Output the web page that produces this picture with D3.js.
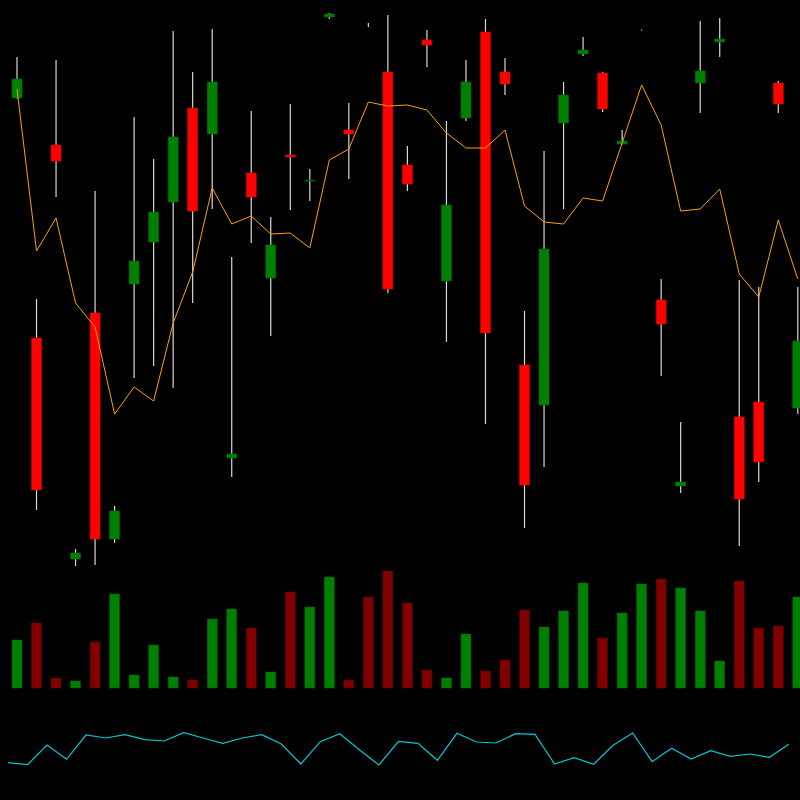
<!DOCTYPE html>
<html>
<head>
<meta charset="utf-8">
<script src="https://cdn.jsdelivr.net/npm/d3@7"></script>
<style>
html,body{margin:0;padding:0;background:#000;}
svg{display:block;}
</style>
</head>
<body>
<script>
// Candle data (price units)
const openV  = [48.2,24.2,43.5,2.1,26.7,4.1,29.6,33.8,37.8,47.2,44.6,12.2,40.7,30.2,42.5,39.9,56.3,45.0,55.56,50.8,41.5,54.0,29.9,46.2,54.8,50.8,21.5,17.5,45.7,52.6,50.7,43.6,54.98,28.0,9.4,49.7,53.8,16.3,17.8,49.7,17.2];
const highV  = [52.3,28.1,52.0,3.1,38.9,7.4,46.3,42.1,54.9,50.8,55.1,32.3,46.9,36.3,47.6,41.1,56.7,47.7,55.7,56.5,43.4,55.0,45.9,52.0,56.1,52.2,26.9,42.9,49.8,54.3,50.8,45.0,55.05,30.1,15.8,55.9,56.2,30.0,29.3,49.9,29.3];
const lowV   = [48.1,7.0,38.3,1.4,1.5,3.7,20.2,21.4,19.2,27.7,37.1,10.3,33.7,24.4,37.0,37.9,56.1,40.1,55.3,28.7,38.9,51.3,23.8,45.9,15.6,48.5,5.2,11.3,37.1,52.4,46.8,43.55,54.95,20.4,8.7,46.7,52.3,3.4,9.8,46.7,16.6];
const closeV = [50.1,9.0,41.9,2.7,4.1,6.9,31.9,36.8,44.3,36.9,49.8,12.6,38.3,33.5,42.3,40.0,56.6,44.6,55.5,29.1,39.6,53.5,37.5,49.8,24.7,49.6,9.5,33.1,48.5,53.0,47.1,43.9,55.02,25.6,9.8,50.9,54.1,8.1,11.8,47.6,23.9];
// Moving average (orange)
const maV = [49.1,32.9,36.2,27.7,25.3,16.6,19.3,17.9,25.7,30.8,39.2,35.6,36.4,34.6,34.7,33.2,42.0,43.1,47.8,47.4,47.5,47.0,44.7,43.2,43.2,45.0,37.4,35.8,35.6,38.2,37.9,43.7,49.5,45.5,36.9,37.1,39.1,30.6,28.3,36.0,30.1];
// Volume
const volV = [48,65,10,7,46,94,13,43,11,8,69,79,60,16,96,81,111,8,91,117,85,18,10,54,17,28,78,61,77,105,50,75,104,109,100,77,27,107,60,62,91];
// Oscillator (cyan)
const oscV = [17.3,15.3,35,20.7,45,42,45.3,40.3,39,47.3,42,36.7,42,45.3,36,16,38.3,46.3,30.3,15,38.5,36.7,19.7,46.7,38,37,46.3,45.7,16,22.3,15.7,34.7,47,18.3,31.7,21,29.3,23.7,26,22.7,35.7];

const W = 800, H = 800;
const n = openV.length;
const idx = d3.range(n);

const svg = d3.select("body").append("svg").attr("width", W).attr("height", H)
  .style("background", "#000");
svg.append("rect").attr("width", W).attr("height", H).attr("fill", "#000");

const x = d3.scaleLinear().domain([0, n - 1]).range([17, 797.8]);
const y = d3.scaleLinear().domain([0, 58]).range([580, 0]);
const yVol = d3.scaleLinear().domain([0, 120]).range([688, 568]);
const yOsc = d3.scaleLinear().domain([0, 60]).range([780, 720]);
const bw = 10;

const up = i => closeV[i] >= openV[i];
const bodyH = i => Math.abs(y(openV[i]) - y(closeV[i]));
const bodyIdx = idx.filter(i => bodyH(i) >= 1);

// Volume bars
svg.append("g").selectAll("rect").data(idx).join("rect")
  .attr("x", i => x(i) - bw / 2)
  .attr("y", i => yVol(volV[i]))
  .attr("width", bw)
  .attr("height", i => yVol(0) - yVol(volV[i]))
  .attr("fill", i => up(i) ? "#008000" : "#800000")
  .attr("stroke", i => up(i) ? "#005a00" : "#5a0000")
  .attr("stroke-width", 0.6);

// Wicks
svg.append("g").selectAll("line").data(idx).join("line")
  .attr("x1", i => x(i)).attr("x2", i => x(i))
  .attr("y1", i => y(highV[i])).attr("y2", i => y(lowV[i]))
  .attr("stroke", "#d8d8d8").attr("stroke-width", 1.2);

// Bodies
svg.append("g").selectAll("rect").data(bodyIdx).join("rect")
  .attr("x", i => x(i) - bw / 2)
  .attr("y", i => y(Math.max(openV[i], closeV[i])))
  .attr("width", bw)
  .attr("height", i => bodyH(i))
  .attr("fill", i => up(i) ? "#008000" : "#ff0000")
  .attr("stroke", i => up(i) ? "#006400" : "#d00000")
  .attr("stroke-width", 0.6);

// Orange MA line
svg.append("path").datum(idx)
  .attr("d", d3.line().x(i => x(i)).y(i => y(maV[i])))
  .attr("fill", "none").attr("stroke", "#ffa000").attr("stroke-width", 1);

// Cyan oscillator
svg.append("path").datum(idx)
  .attr("d", d3.line().x(i => x(i) - 9).y(i => yOsc(oscV[i])))
  .attr("fill", "none").attr("stroke", "#00c8d0").attr("stroke-width", 1.2);
</script>
</body>
</html>
